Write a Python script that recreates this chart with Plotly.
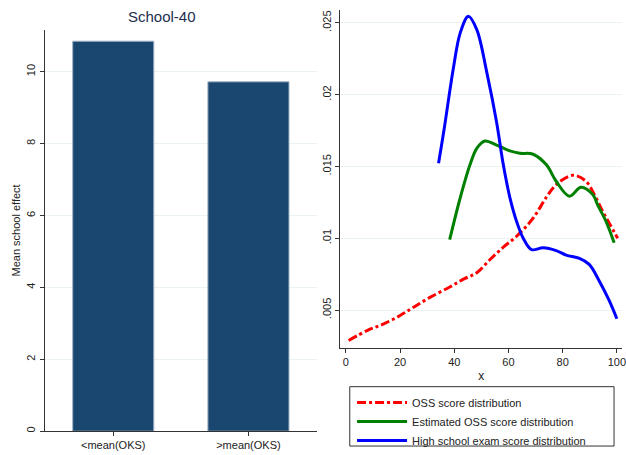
import plotly.graph_objects as go

# left panel: mean school effect by group
groups = ["<mean(OKS)", ">mean(OKS)"]
school_effect = [10.85, 9.72]
left_ticks = [0, 2, 4, 6, 8, 10]

# right panel: score distributions
oss_x = [1, 8, 14, 20, 25, 31, 38.5, 43.4, 48.3, 53.2, 58.1, 63, 69.1, 74, 77.6, 83.7, 88.6, 92.3, 94.8, 97.2, 100.3]
oss_y = [0.00288, 0.00359, 0.00404, 0.00462, 0.0052, 0.00588, 0.00662, 0.00715, 0.0076, 0.00852, 0.00938,
         0.01014, 0.0114, 0.01286, 0.01373, 0.01438, 0.01397, 0.01281, 0.01186, 0.01105, 0.0100]

est_x = [38.3, 42.2, 45.8, 48.3, 51.3, 55.6, 60.5, 64.2, 69.1, 74, 77.6, 82.5, 86.8, 91.1, 92.9, 96, 99]
est_y = [0.0099, 0.01282, 0.01511, 0.01626, 0.01677, 0.01649, 0.01608, 0.01592, 0.01585, 0.01511, 0.01397,
         0.01293, 0.01355, 0.01304, 0.01232, 0.01117, 0.00968]

hs_x = [34.2, 36.1, 39.8, 42.2, 45.2, 48.3, 52, 55.6, 58.1, 60.5, 63, 65.4, 68.5, 72.8, 77.6, 81.3, 86.2,
        89.8, 93.5, 97.2, 100]
hs_y = [0.01523, 0.01741, 0.0220, 0.0243, 0.02546, 0.02453, 0.02155, 0.0181, 0.01511, 0.01285, 0.01117,
        0.01002, 0.00921, 0.00933, 0.00914, 0.00883, 0.0086, 0.00818, 0.00703, 0.00565, 0.00439]

right_yticks = [0.005, 0.01, 0.015, 0.02, 0.025]
right_ytext = [".005", ".01", ".015", ".02", ".025"]
right_xticks = [0, 20, 40, 60, 80, 100]

font = "Liberation Sans, Arial, sans-serif"
grid = "#eaf2f3"

fig = go.Figure()
fig.add_trace(go.Bar(x=groups, y=school_effect, width=0.6, marker_color="#1a476f",
                     marker_line=dict(color="#9fb3c6", width=1), showlegend=False,
                     xaxis="x", yaxis="y"))
fig.add_trace(go.Scatter(x=oss_x, y=oss_y, mode="lines", name="OSS score distribution",
                         line=dict(color="#ff0000", width=3, dash="dashdot", shape="spline"),
                         xaxis="x2", yaxis="y2"))
fig.add_trace(go.Scatter(x=est_x, y=est_y, mode="lines", name="Estimated OSS score distribution",
                         line=dict(color="#008000", width=3, shape="spline"),
                         xaxis="x2", yaxis="y2"))
fig.add_trace(go.Scatter(x=hs_x, y=hs_y, mode="lines", name="High school exam score distribution",
                         line=dict(color="#0000ff", width=3, shape="spline"),
                         xaxis="x2", yaxis="y2"))

axis_common = dict(showline=True, linecolor="#333333", linewidth=1, ticks="outside", ticklen=4,
                   tickcolor="#333333", tickfont=dict(size=11, color="#222222"), zeroline=False,
                   ticklabeloverflow="allow")

fig.update_layout(
    width=626, height=455,
    margin=dict(l=0, r=0, t=0, b=0),
    paper_bgcolor="white", plot_bgcolor="white",
    font=dict(family=font, size=11, color="#222222"),
    xaxis=dict(domain=[0.0719, 0.5096], range=[-0.507, 1.507], anchor="y", showgrid=False,
               **axis_common),
    yaxis=dict(domain=[0.0418, 0.934], range=[0, 11.17], anchor="x", tickvals=left_ticks,
               tickangle=-90, showgrid=True, gridcolor=grid,
               title=dict(text="Mean school effect", font=dict(size=11), standoff=2),
               **axis_common),
    xaxis2=dict(domain=[0.5474, 1.0], range=[-2.0, 101.9], anchor="y2", tickvals=right_xticks,
                showgrid=False, title=dict(text="x", font=dict(size=12), standoff=4),
                **axis_common),
    yaxis2=dict(domain=[0.2264, 0.978], range=[0.00235, 0.0259], anchor="x2",
                tickvals=right_yticks, ticktext=right_ytext, tickangle=-90,
                showgrid=True, gridcolor=grid, **axis_common),
    legend=dict(x=0.566, y=0.138, xanchor="left", yanchor="top", bgcolor="rgba(0,0,0,0)",
                font=dict(size=11), tracegroupgap=0, itemwidth=50),
    annotations=[dict(text="School-40", x=0.2604, y=0.9626, xref="paper", yref="paper",
                      xanchor="center", yanchor="middle",
                      showarrow=False, font=dict(size=15, color="#1e2d4f"))],
    shapes=[dict(type="rect", xref="paper", yref="paper", x0=0.5623, x1=0.9872,
                 y0=0.0088, y1=0.1407, line=dict(color="#333333", width=1))],
)

fig.write_html("out.html", config={"displayModeBar": False},
               post_script="document.body.style.margin='0px';"
                           "document.body.style.overflow='hidden';"
                           "document.documentElement.style.overflow='hidden';")
